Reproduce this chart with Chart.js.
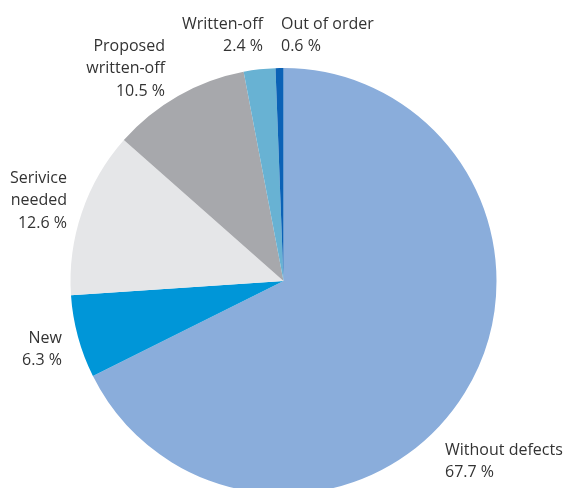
<!DOCTYPE html>
<html lang="en">
<head>
    <meta charset="UTF-8">
    <title>Equipment condition</title>
    <script src="https://cdn.jsdelivr.net/npm/chart.js"></script>
    <style>
        html, body {
            margin: 0;
            padding: 0;
            background: #ffffff;
            overflow: hidden;
        }
        .chart-box {
            position: relative;
            width: 565px;
            height: 562px;
        }
    </style>
</head>
<body>
    <div class="chart-box">
        <canvas id="conditionChart"></canvas>
    </div>

    <script>
        // Condition categories, clockwise from 12 o'clock
        const categories = ['Without defects', 'New', 'Serivice needed', 'Proposed written-off', 'Written-off', 'Out of order'];
        const shares = [67.7, 6.3, 12.6, 10.5, 2.4, 0.6];
        const sliceColors = ['#8aaddb', '#0096d8', '#e5e6e8', '#a7a8ac', '#68b2d3', '#0b62b6'];

        // Label lines per category and where the text block sits
        const labelLines = [
            ['Without defects'],
            ['New'],
            ['Serivice', 'needed'],
            ['Proposed', 'written-off'],
            ['Written-off'],
            ['Out of order']
        ];
        const labelPlacement = [
            { x: 445, y: 450, align: 'left' },
            { x: 62, y: 338, align: 'right' },
            { x: 67, y: 178, align: 'right' },
            { x: 165, y: 46, align: 'right' },
            { x: 263, y: 24, align: 'right' },
            { x: 281, y: 24, align: 'left' }
        ];

        const sliceLabels = {
            id: 'sliceLabels',
            afterDraw(chart) {
                const ctx = chart.ctx;
                const values = chart.data.datasets[0].data;
                ctx.save();
                ctx.font = '16px "Open Sans", sans-serif';
                ctx.fillStyle = '#333333';
                ctx.textBaseline = 'middle';
                labelLines.forEach((lines, i) => {
                    const p = labelPlacement[i];
                    ctx.textAlign = p.align;
                    const rows = lines.concat([values[i].toFixed(1) + ' %']);
                    rows.forEach((t, k) => ctx.fillText(t, p.x, p.y + k * 22.5));
                });
                ctx.restore();
            }
        };

        new Chart(document.getElementById('conditionChart'), {
            type: 'pie',
            data: {
                labels: categories,
                datasets: [{
                    data: shares,
                    backgroundColor: sliceColors,
                    borderWidth: 0
                }]
            },
            options: {
                responsive: true,
                maintainAspectRatio: false,
                animation: false,
                layout: {
                    padding: { top: 68, bottom: 68, left: 70, right: 68 }
                },
                plugins: {
                    legend: { display: false },
                    tooltip: { enabled: false }
                }
            },
            plugins: [sliceLabels]
        });
    </script>
</body>
</html>
